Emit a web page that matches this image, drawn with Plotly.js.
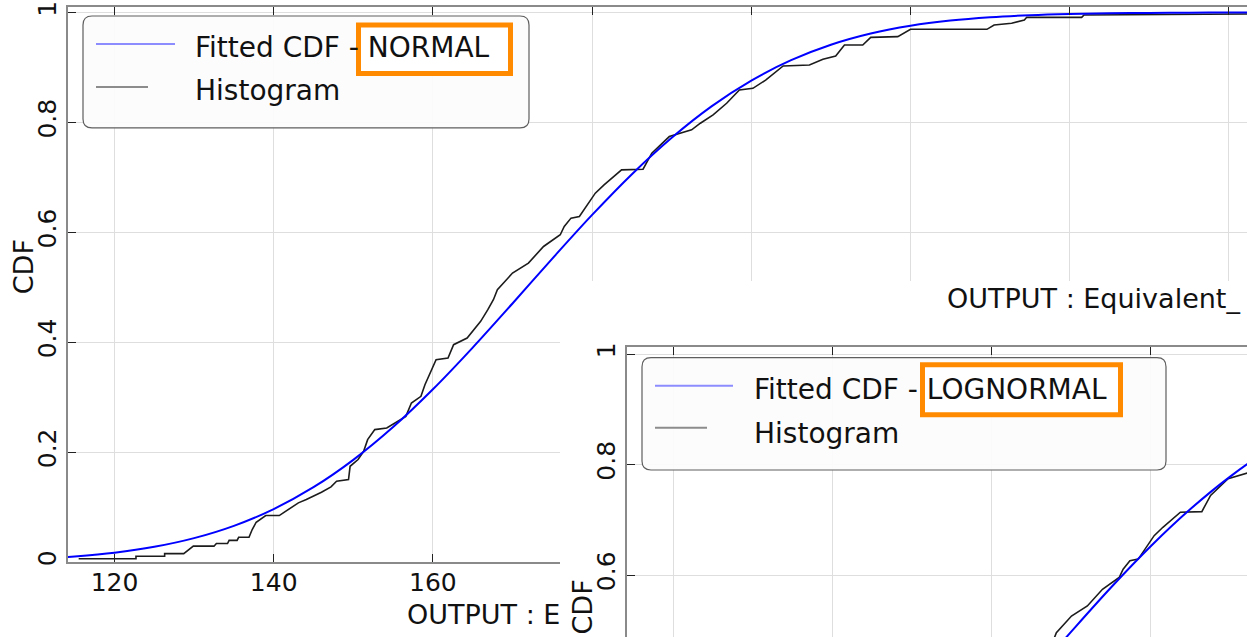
<!DOCTYPE html>
<html>
<head>
<meta charset="utf-8">
<script src="https://cdn.plot.ly/plotly-3.0.1.min.js"></script>
<style>
  html, body { margin: 0; padding: 0; background: #fff; overflow: hidden; }
  #c1 { position: absolute; left: 0; top: 0; width: 1247px; height: 637px; }
  #c2 { position: absolute; left: 560px; top: 281px; width: 687px; height: 356px; background: #fff; overflow: hidden; }
</style>
</head>
<body>
<div id="c1"></div>
<div id="c2"></div>
<script>
// ---------- data ----------
const histX = [115.5,122.7,122.7,126.3,126.3,128.7,129.9,132.5,132.8,134.2,134.4,135.4,135.6,136.9,137.3,137.8,139.0,140.7,141.2,142.2,143.1,144.1,145.0,146.0,147.2,147.9,149.4,149.6,150.6,151.3,151.8,152.7,154.2,155.1,156.6,157.3,158.5,159.0,160.4,161.9,162.6,164.3,166.0,166.9,167.6,168.1,170.0,172.0,173.9,176.0,176.5,177.35,178.4,180.4,181.5,183.7,186.4,187.5,189.7,192.5,193.6,195.2,196.9,198.5,200.2,201.8,204.0,207.3,209.0,210.6,211.7,214.0,215.0,218.4,220.0,229.6,230.5,232.7,234.3,234.6,241.5,241.8,262.3];
const histY = [0.0058,0.0058,0.0106,0.0106,0.0152,0.0152,0.0288,0.0288,0.0336,0.0336,0.0394,0.0394,0.045,0.045,0.0591,0.0724,0.0845,0.0845,0.0894,0.0985,0.1076,0.1136,0.1197,0.127,0.1367,0.147,0.150,0.1742,0.1864,0.2015,0.2227,0.2409,0.2439,0.2518,0.265,0.2894,0.3015,0.3227,0.368,0.371,0.3955,0.4076,0.4379,0.4591,0.4773,0.4955,0.5258,0.544,0.5742,0.5955,0.6106,0.6258,0.6288,0.6712,0.6864,0.7136,0.7148,0.744,0.7742,0.7864,0.7985,0.8136,0.8348,0.859,0.862,0.877,0.9027,0.9045,0.9148,0.9209,0.9409,0.9409,0.9548,0.956,0.9694,0.9694,0.9773,0.9803,0.9864,0.9912,0.9912,0.9955,0.9973];

const normalX = [112,115,120,125,130,135,140,145,150,155,160,165,170,175,180,185,190,195,200,205,210,215,220,225,230,235,240,245,250,255,260,265];
const normalY = [0.0071,0.0100,0.0169,0.0276,0.0434,0.0658,0.0963,0.1361,0.1859,0.2455,0.3143,0.3902,0.4705,0.5521,0.6316,0.7058,0.7721,0.8292,0.8761,0.9132,0.9413,0.9617,0.9759,0.9854,0.9915,0.9952,0.9974,0.9987,0.9993,0.9997,0.9998,0.9999];

const lognormX = [140,145,150,155,160,165,170,175,180,185,190,195,200,205,210];
const lognormY = [0.0881,0.1338,0.191,0.259,0.3352,0.4159,0.498,0.5779,0.6526,0.7199,0.7786,0.8284,0.8694,0.9024,0.9282];

const seriesNames = ['Fitted CDF - ', 'Histogram'];
const fitNames = ['NORMAL', 'LOGNORMAL'];
const xTitleCut = 'OUTPUT : E';
const xTitle = 'OUTPUT : Equivalent_';
const yTitle = 'CDF';

// ---------- styling ----------
const FONT = 'DejaVu Sans, Verdana, sans-serif';
const GRID = '#dedede';
const AXIS = '#8a8a8a';
const BLUE = '#0000ff';
const BLACK = '#1c1c1c';
const ORANGE = '#ff8a00';

function roundRect(x0, y0, x1, y1, r, X, Y) {
  return 'M' + X(x0 + r) + ',' + Y(y0) +
    ' L' + X(x1 - r) + ',' + Y(y0) +
    ' Q' + X(x1) + ',' + Y(y0) + ' ' + X(x1) + ',' + Y(y0 + r) +
    ' L' + X(x1) + ',' + Y(y1 - r) +
    ' Q' + X(x1) + ',' + Y(y1) + ' ' + X(x1 - r) + ',' + Y(y1) +
    ' L' + X(x0 + r) + ',' + Y(y1) +
    ' Q' + X(x0) + ',' + Y(y1) + ' ' + X(x0) + ',' + Y(y1 - r) +
    ' L' + X(x0) + ',' + Y(y0 + r) +
    ' Q' + X(x0) + ',' + Y(y0) + ' ' + X(x0 + r) + ',' + Y(y0) + ' Z';
}

function legendParts(X, Y, box, blueLine, grayLine, textX, textY1, textY2, orange, fitName) {
  const shapes = [
    {type: 'path', xref: 'paper', yref: 'paper', layer: 'above',
     path: roundRect(box[0], box[1], box[2], box[3], 9, X, Y),
     fillcolor: 'rgba(252,252,252,0.93)', line: {color: '#5e5e5e', width: 1.2}},
    {type: 'line', xref: 'paper', yref: 'paper', layer: 'above',
     x0: X(blueLine[0]), x1: X(blueLine[1]), y0: Y(blueLine[2]), y1: Y(blueLine[2]),
     line: {color: '#8c8cff', width: 2}},
    {type: 'line', xref: 'paper', yref: 'paper', layer: 'above',
     x0: X(grayLine[0]), x1: X(grayLine[1]), y0: Y(grayLine[2]), y1: Y(grayLine[2]),
     line: {color: '#8c8c8c', width: 2}},
    {type: 'rect', xref: 'paper', yref: 'paper', layer: 'above',
     x0: X(orange[0]), x1: X(orange[2]), y0: Y(orange[1]), y1: Y(orange[3]),
     fillcolor: 'rgba(255,255,255,1)', line: {color: ORANGE, width: 5}}
  ];
  const annotations = [
    {xref: 'paper', yref: 'paper', x: X(textX), y: Y(textY1), xanchor: 'left', yanchor: 'middle',
     text: seriesNames[0] + fitName, showarrow: false, font: {family: FONT, size: 28, color: '#111'}},
    {xref: 'paper', yref: 'paper', x: X(textX), y: Y(textY2), xanchor: 'left', yanchor: 'middle',
     text: seriesNames[1], showarrow: false, font: {family: FONT, size: 28, color: '#111'}}
  ];
  return {shapes, annotations};
}

function axisBase() {
  return {
    showgrid: true, gridcolor: GRID, gridwidth: 1,
    showline: true, linecolor: AXIS, linewidth: 2,
    ticks: 'inside', ticklen: 8, tickwidth: 1, tickcolor: '#222',
    zeroline: false, fixedrange: true,
    tickfont: {family: FONT, size: 25, color: '#111'}
  };
}

// ---------- chart 1 (NORMAL) ----------
(function () {
  const L = 68, T = 7, W = 1247, H = 637, B = 74.5;
  const pw = W - L, ph = H - T - B;
  const X = px => (px - L) / pw;
  const Y = py => (T + ph - py) / ph;

  const traces = [
    {x: histX, y: histY, type: 'scatter', mode: 'lines', name: seriesNames[1],
     line: {color: BLACK, width: 1.6}},
    {x: normalX, y: normalY, type: 'scatter', mode: 'lines', name: seriesNames[0] + fitNames[0],
     line: {color: BLUE, width: 2, shape: 'spline'}}
  ];
  const leg = legendParts(X, Y, [83, 16, 529, 128], [96, 175, 44], [96, 148, 87],
                          193, 48, 91, [358.5, 25, 510.5, 73.5], fitNames[0]);
  const xa = Object.assign(axisBase(), {range: [114.16, 262.27], tick0: 0, dtick: 20, mirror: 'ticks', ticklabelstandoff: -3});
  const ya = Object.assign(axisBase(), {range: [0, 1.01], tick0: 0, dtick: 0.2, tickangle: -90});
  const layout = {
    width: W, height: H, margin: {l: L, r: 0, t: T, b: B, pad: 0},
    paper_bgcolor: '#fff', plot_bgcolor: '#fff', showlegend: false,
    font: {family: FONT, size: 25, color: '#111'},
    xaxis: xa, yaxis: ya,
    shapes: leg.shapes,
    annotations: leg.annotations.concat([
      {xref: 'paper', yref: 'paper', x: X(405), y: Y(615), xanchor: 'left', yanchor: 'middle',
       text: xTitleCut, showarrow: false, font: {family: FONT, size: 27, color: '#111'}},
      {xref: 'paper', yref: 'paper', x: X(23), y: Y(267.5), xanchor: 'center', yanchor: 'middle',
       text: yTitle, textangle: -90, showarrow: false, font: {family: FONT, size: 27, color: '#111'}}
    ])
  };
  Plotly.newPlot('c1', traces, layout, {staticPlot: true, displayModeBar: false});
})();

// ---------- chart 2 (LOGNORMAL), overlaid screenshot region ----------
(function () {
  const OX = 560, OY = 281;
  const W = 687, H = 356, L = 67, T = 66;
  const pw = W - L, ph = H - T;
  const X = pxAbs => (pxAbs - OX - L) / pw;
  const Y = pyAbs => (H - (pyAbs - OY)) / ph;

  const traces = [
    {x: histX, y: histY, type: 'scatter', mode: 'lines', name: seriesNames[1],
     line: {color: BLACK, width: 1.6}},
    {x: lognormX, y: lognormY, type: 'scatter', mode: 'lines', name: seriesNames[0] + fitNames[1],
     line: {color: BLUE, width: 2, shape: 'spline'}}
  ];
  const leg = legendParts(X, Y, [642, 357.7, 1166, 470], [655, 733, 385.7], [655, 707, 427.7],
                          751.5, 390, 433, [922.5, 364.8, 1120.5, 414.8], fitNames[1]);
  const xa = Object.assign(axisBase(), {range: [114.09, 192.08], tick0: 0, dtick: 20, side: 'top', showticklabels: false});
  const ya = Object.assign(axisBase(), {range: [0.4878, 1.0127], tick0: 0, dtick: 0.2, tickangle: -90});
  const layout = {
    width: W, height: H, margin: {l: L, r: 0, t: T, b: 0, pad: 0},
    paper_bgcolor: '#fff', plot_bgcolor: '#fff', showlegend: false,
    font: {family: FONT, size: 25, color: '#111'},
    xaxis: xa, yaxis: ya,
    shapes: leg.shapes,
    annotations: leg.annotations.concat([
      {xref: 'paper', yref: 'paper', x: X(945), y: Y(298.8), xanchor: 'left', yanchor: 'middle',
       text: xTitle, showarrow: false, font: {family: FONT, size: 27, color: '#111'}},
      {xref: 'paper', yref: 'paper', x: X(582), y: Y(607.5), xanchor: 'center', yanchor: 'middle',
       text: yTitle, textangle: -90, showarrow: false, font: {family: FONT, size: 27, color: '#111'}}
    ])
  };
  Plotly.newPlot('c2', traces, layout, {staticPlot: true, displayModeBar: false});
})();
</script>
</body>
</html>
